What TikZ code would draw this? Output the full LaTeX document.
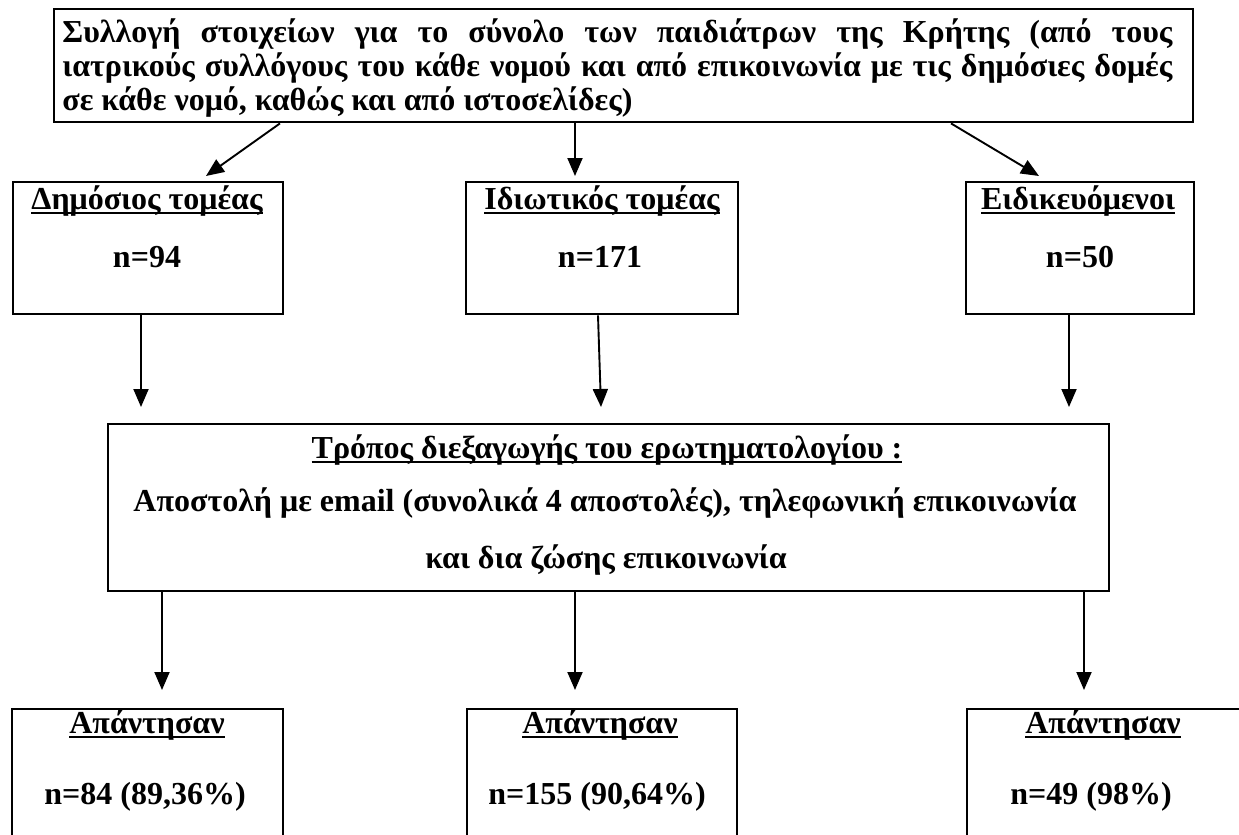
\documentclass[tikz,border=0pt]{standalone}
\usepackage{fontspec}
\setmainfont{Liberation Serif}
\usetikzlibrary{arrows.meta,calc}
\newcommand\ulin[1]{\setbox0=\hbox{#1}\leavevmode\rlap{\rule[-2.6pt]{\wd0}{1.2pt}}\box0}
\begin{document}
\begin{tikzpicture}[x=0.5pt,y=-0.5pt,
 box/.style={draw, line width=1.2pt, inner sep=0pt, anchor=north west},
 txt/.style={inner sep=0pt, anchor=base, font=\fontsize{16}{18}\selectfont\bfseries},
 arr/.style={line width=0.95pt, -{Triangle[length=9pt,width=7.5pt]}}]
\useasboundingbox (0,0) rectangle (1239,835);
% boxes
\node[box, minimum width=569.5pt, minimum height=56.5pt] (top) at (53,8) {};
\node[box, minimum width=135pt, minimum height=66pt] (pub) at (12,181) {};
\node[box, minimum width=136pt, minimum height=66pt] (priv) at (465,181) {};
\node[box, minimum width=114pt, minimum height=66pt] (res) at (965,181) {};
\node[box, minimum width=500.5pt, minimum height=83.5pt] (mid) at (107,423) {};
\node[box, minimum width=135.5pt, minimum height=100pt] (ans1) at (11,708) {};
\node[box, minimum width=135pt, minimum height=100pt] (ans2) at (466,708) {};
\node[box, minimum width=150pt, minimum height=100pt] (ans3) at (966,708) {};
% texts
\node[txt, anchor=base west, text width=555pt, align=justify, font=\fontsize{16}{17.25}\selectfont\bfseries] (toptxt) at (62,42) {Συλλογή στοιχείων για το σύνολο των παιδιάτρων της Κρήτης (από τους\linebreak ιατρικούς συλλόγους του κάθε νομού και από επικοινωνία με τις δημόσιες δομές\linebreak σε κάθε νομό, καθώς και από ιστοσελίδες)};
\node[txt] (pubt) at (147,209) {\ulin{Δημόσιος τομέας}};
\node[txt] (pubn) at (147,267) {n=94};
\node[txt] (privt) at (602,209) {\ulin{Ιδιωτικός τομέας}};
\node[txt] (privn) at (600,267) {n=171};
\node[txt] (rest) at (1078,209) {\ulin{Ειδικευόμενοι}};
\node[txt] (resn) at (1080,267) {n=50};
\node[txt] (midt) at (607,458) {\ulin{Τρόπος διεξαγωγής του ερωτηματολογίου :}};
\node[txt] (mid2) at (605,511) {Αποστολή με email (συνολικά 4 αποστολές), τηλεφωνική επικοινωνία};
\node[txt] (mid3) at (606,568) {και δια ζώσης επικοινωνία};
\node[txt] (a1t) at (147,733) {\ulin{Απάντησαν}};
\node[txt] (a1n) at (145,804) {n=84 (89,36\%)};
\node[txt] (a2t) at (600,733) {\ulin{Απάντησαν}};
\node[txt] (a2n) at (597,804) {n=155 (90,64\%)};
\node[txt] (a3t) at (1103,733) {\ulin{Απάντησαν}};
\node[txt] (a3n) at (1091,804) {n=49 (98\%)};
% arrows
\draw[arr] ($(top.south west)+(227,0)$) -- ($(pub.north west)+(194,-5)$);
\draw[arr] ($(top.south west)+(522,0)$) -- ($(priv.north west)+(110,-5)$);
\draw[arr] ($(top.south west)+(898,0)$) -- ($(res.north west)+(74,-5)$);
\draw[arr] ($(pub.south west)+(129,0)$) -- ($(mid.north west)+(34,-16)$);
\draw[arr] ($(priv.south west)+(133,0)$) -- ($(mid.north west)+(494,-16)$);
\draw[arr] ($(res.south west)+(104,0)$) -- ($(mid.north west)+(962,-16)$);
\draw[arr] ($(mid.south west)+(55,0)$) -- ($(ans1.north west)+(151,-18)$);
\draw[arr] ($(mid.south west)+(468,0)$) -- ($(ans2.north west)+(109,-18)$);
\draw[arr] ($(mid.south west)+(977,0)$) -- ($(ans3.north west)+(118,-18)$);
\end{tikzpicture}
\end{document}
